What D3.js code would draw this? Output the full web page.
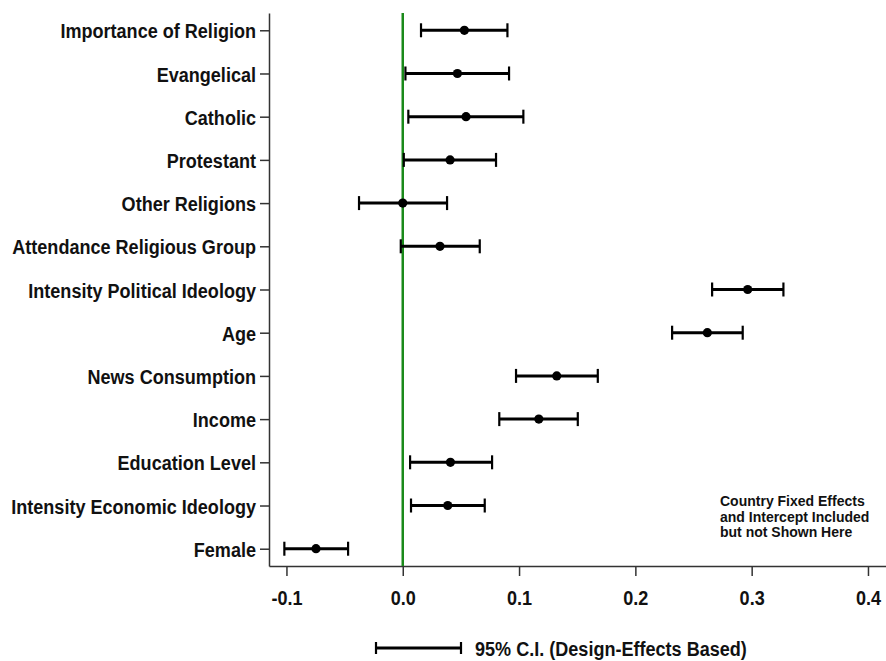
<!DOCTYPE html>
<html>
<head>
<meta charset="utf-8">
<script src="https://cdn.jsdelivr.net/npm/d3@7"></script>
<style>
  html, body { margin: 0; padding: 0; background: #fff; }
  svg { display: block; }
  .lab { font-family: "Liberation Sans", Arial, sans-serif; font-weight: bold; fill: #111; }
  .note { font-family: "Liberation Sans", Arial, sans-serif; font-weight: bold; fill: #111; }
</style>
</head>
<body>
<svg id="chart" width="886" height="661"></svg>
<script>
const categories = [
  "Importance of Religion", "Evangelical", "Catholic", "Protestant", "Other Religions",
  "Attendance Religious Group", "Intensity Political Ideology", "Age", "News Consumption",
  "Income", "Education Level", "Intensity Economic Ideology", "Female"
];
const estimates = [0.053, 0.047, 0.0544, 0.0407, 0.000, 0.032, 0.2966, 0.2619, 0.1324, 0.117, 0.041, 0.0387, -0.0746];
const lower     = [0.0157, 0.0023, 0.0048, 0.0009, -0.0376, -0.0017, 0.266, 0.2316, 0.0974, 0.083, 0.0063, 0.0071, -0.1018];
const upper     = [0.090, 0.0914, 0.1037, 0.0802, 0.0381, 0.0662, 0.3273, 0.2923, 0.1677, 0.1505, 0.0768, 0.0705, -0.047];
const xTicks = [-0.1, 0.0, 0.1, 0.2, 0.3, 0.4];
const xTickLabels = ["-0.1", "0.0", "0.1", "0.2", "0.3", "0.4"];
const legendLabel = "95% C.I. (Design-Effects Based)";
const noteLines = ["Country Fixed Effects", "and Intercept Included", "but not Shown Here"];

(function () {
const data = categories.map((c, i) => ({ c, est: estimates[i], lo: lower[i], hi: upper[i] }));
const SX = 0.86;   // horizontal condensing to mimic a narrow face

const svg = d3.select("#chart");
const mLeft = 269, mRight = 886, mTop = 13, mBottom = 566;

const x = d3.scaleLinear().domain([-0.115, 0.4155]).range([mLeft, mRight]);
const y = d3.scalePoint().domain(categories).range([mTop, mBottom]).padding(0.4);

// Y axis
const yAxis = svg.append("g").attr("transform", `translate(${mLeft},0)`)
  .call(d3.axisLeft(y).tickSize(9).tickPadding(4).tickSizeOuter(0));
yAxis.select(".domain").attr("stroke", "#333").attr("stroke-width", 1.5);
yAxis.selectAll(".tick line").attr("stroke", "#333").attr("stroke-width", 1.5);
yAxis.selectAll(".tick text").attr("class", "lab").style("font-size", "21px")
  .attr("x", 0).attr("dy", "0.36em")
  .attr("transform", `translate(-13,0) scale(${SX},1)`);

// X axis
const xAxis = svg.append("g").attr("transform", `translate(0,${mBottom})`)
  .call(d3.axisBottom(x).tickValues(xTicks).tickFormat((d, i) => xTickLabels[i]).tickSize(10).tickPadding(14).tickSizeOuter(0));
xAxis.select(".domain").attr("stroke", "#333").attr("stroke-width", 1.5);
xAxis.selectAll(".tick line").attr("stroke", "#333").attr("stroke-width", 1.5);
xAxis.selectAll(".tick text").attr("class", "lab").style("font-size", "21px")
  .attr("transform", `scale(${SX},1)`).attr("x", 0);

// zero line
svg.append("line")
  .attr("x1", x(0)).attr("x2", x(0)).attr("y1", mTop).attr("y2", mBottom)
  .attr("stroke", "#1a8a1a").attr("stroke-width", 2.5);

const capH = 7;
const g = svg.append("g");
const rows = g.selectAll("g.row").data(data).join("g").attr("class", "row")
  .attr("transform", d => `translate(0,${y(d.c)})`);
rows.append("line").attr("x1", d => x(d.lo)).attr("x2", d => x(d.hi))
  .attr("stroke", "#000").attr("stroke-width", 3);
rows.append("line").attr("x1", d => x(d.lo)).attr("x2", d => x(d.lo)).attr("y1", -capH).attr("y2", capH)
  .attr("stroke", "#000").attr("stroke-width", 2.2);
rows.append("line").attr("x1", d => x(d.hi)).attr("x2", d => x(d.hi)).attr("y1", -capH).attr("y2", capH)
  .attr("stroke", "#000").attr("stroke-width", 2.2);
rows.append("circle").attr("cx", d => x(d.est)).attr("r", 4.6).attr("fill", "#000");

// note
svg.append("text").attr("class", "note").style("font-size", "14px")
  .attr("x", 720).attr("y", 506)
  .selectAll("tspan").data(noteLines).join("tspan")
  .attr("x", 720).attr("dy", (d, i) => i === 0 ? 0 : 15.5).text(d => d);

// legend
const ly = 648;
const lg = svg.append("g");
lg.append("line").attr("x1", 376).attr("x2", 461).attr("y1", ly).attr("y2", ly).attr("stroke", "#000").attr("stroke-width", 3);
lg.append("line").attr("x1", 376).attr("x2", 376).attr("y1", ly - 6).attr("y2", ly + 6).attr("stroke", "#000").attr("stroke-width", 2.2);
lg.append("line").attr("x1", 461).attr("x2", 461).attr("y1", ly - 6).attr("y2", ly + 6).attr("stroke", "#000").attr("stroke-width", 2.2);
lg.append("text").attr("class", "lab").style("font-size", "21px")
  .attr("x", 0).attr("y", 0).attr("dy", "0.36em")
  .attr("transform", `translate(475,${ly}) scale(${SX},1)`).text(legendLabel);
})();
</script>
</body>
</html>
